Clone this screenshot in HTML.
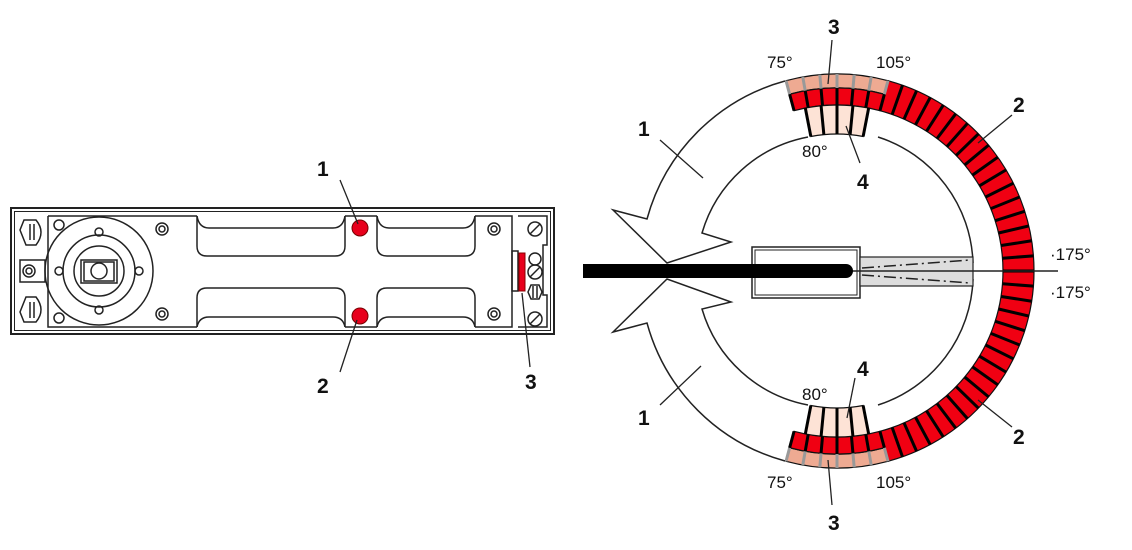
<!DOCTYPE html>
<html><head><meta charset="utf-8"><style>
html,body{margin:0;padding:0;background:#fff;width:1132px;height:550px;overflow:hidden}
svg{display:block}
.b{font-family:"Liberation Sans",sans-serif;font-weight:bold;font-size:21px;fill:#111}
.d{font-family:"Liberation Sans",sans-serif;font-size:17px;fill:#111}
</style></head><body>
<svg id="s" width="1132" height="550" viewBox="0 0 1132 550" xmlns="http://www.w3.org/2000/svg">
<g fill="none" stroke="#222" stroke-width="1.5">
<rect x="11" y="208" width="543" height="126" stroke-width="2"/>
<rect x="14.5" y="211.5" width="536" height="119" stroke-width="1"/>
<path d="M48 216 H197 M48 216 V327 H197 M345 216 H377 M475 216 H512 V327 H475 M345 327 H377"/>
<path d="M197 216 V246 Q197 256 207 256 H335 Q345 256 345 246 V216"/>
<path d="M197 216 Q199 228 209 228 H333 Q343 228 345 216"/>
<path d="M377 216 V246 Q377 256 387 256 H465 Q475 256 475 246 V216"/>
<path d="M377 216 Q379 228 389 228 H463 Q473 228 475 216"/>
<path d="M197 327 V298 Q197 288 207 288 H335 Q345 288 345 298 V327"/>
<path d="M197 327 Q199 317 209 317 H333 Q343 317 345 327"/>
<path d="M377 327 V298 Q377 288 387 288 H465 Q475 288 475 298 V327"/>
<path d="M377 327 Q379 317 389 317 H463 Q473 317 475 327"/>
<circle cx="99" cy="271" r="54"/><circle cx="99" cy="271" r="36"/><circle cx="99" cy="271" r="25"/>
<rect x="81" y="260" width="36" height="23"/><rect x="84" y="262" width="30" height="19"/>
<circle cx="99" cy="271" r="8"/>
<circle cx="99" cy="232" r="4"/><circle cx="99" cy="310" r="4"/><circle cx="59" cy="271" r="4"/><circle cx="139" cy="271" r="4"/>
<circle cx="59" cy="225" r="5"/><circle cx="59" cy="318" r="5"/>
<circle cx="162" cy="229" r="6"/><circle cx="162" cy="229" r="3"/>
<circle cx="162" cy="314" r="6"/><circle cx="162" cy="314" r="3"/>
<circle cx="494" cy="229" r="6"/><circle cx="494" cy="229" r="3"/>
<circle cx="494" cy="314" r="6"/><circle cx="494" cy="314" r="3"/>
<circle cx="29" cy="271" r="6"/><circle cx="29" cy="271" r="3"/>
<path d="M20 260 H45 V282 H20 Z"/>
<path d="M24 220 L20 230 L26 245 H36 Q46 232 36 220 Z"/><path d="M30 224 V240 M34 224 V240"/>
<path d="M24 322 L20 312 L26 297 H36 Q46 310 36 322 Z"/><path d="M30 302 V318 M34 302 V318"/>
<path d="M518 216 H547 V245 H543 V295 H547 V327 H518"/>
<rect x="512" y="251" width="6" height="40"/>
<circle cx="535" cy="229" r="7"/><path d="M530 234 L540 224"/>
<circle cx="535" cy="259" r="6"/><circle cx="535" cy="272" r="7"/><path d="M530 277 L540 267"/>
<path d="M528 292 L531 285 H539 L542 292 L539 299 H531 Z"/><path d="M533 286 V298 M537 286 V298"/>
<circle cx="535" cy="319" r="7"/><path d="M530 324 L540 314"/>
</g>
<rect x="519" y="253" width="6" height="38" fill="#e8001c" stroke="#800" stroke-width="1"/>
<circle cx="360" cy="228" r="8" fill="#e8001c" stroke="#700" stroke-width="1"/>
<circle cx="360" cy="316" r="8" fill="#e8001c" stroke="#700" stroke-width="1"/>
<g stroke="#222" stroke-width="1.3">
<line x1="340" y1="180" x2="358" y2="224"/><line x1="340" y1="372" x2="357" y2="320"/><line x1="530" y1="367" x2="522" y2="293"/>
</g>
<text class="b" x="317" y="176">1</text><text class="b" x="317" y="393">2</text><text class="b" x="525" y="389">3</text>
<g id="ring"></g>
<g fill="none" stroke="#222" stroke-width="1.5">
<path d="M785 81 A197 197 0 0 0 647 219 L613 210 L667 263 L731 242 L702 233 A137 137 0 0 1 808 137"/>
<path d="M785 461 A197 197 0 0 1 647 323 L613 332 L667 279 L731 302 L702 309 A137 137 0 0 0 808 405"/>
<path d="M878 137 A137 137 0 0 1 973 263 M878 405 A137 137 0 0 0 973 279"/>
</g>
<rect x="752" y="247" width="108" height="51" fill="#fff" stroke="#222" stroke-width="1.5"/>
<rect x="755" y="250" width="102" height="45" fill="none" stroke="#222" stroke-width="1"/>
<rect x="860" y="257" width="113" height="29" fill="#ddd" stroke="#222" stroke-width="1.2"/>
<g stroke="#222" stroke-width="1.5" stroke-dasharray="12 4 2 4"><line x1="862" y1="268" x2="970" y2="260"/><line x1="862" y1="275" x2="970" y2="283"/></g>
<line x1="850" y1="271" x2="1058" y2="271" stroke="#222" stroke-width="1.5"/>
<rect x="583" y="264" width="270" height="14" rx="7" fill="#000"/>
<rect x="583" y="264" width="20" height="14" fill="#000"/>
<g stroke="#222" stroke-width="1.3">
<line x1="832" y1="40" x2="828" y2="84"/><line x1="860" y1="163" x2="846" y2="126"/>
<line x1="1012" y1="115" x2="978" y2="143"/><line x1="1012" y1="427" x2="978" y2="400"/>
<line x1="855" y1="378" x2="847" y2="418"/><line x1="832" y1="505" x2="828" y2="460"/>
<line x1="660" y1="140" x2="703" y2="178"/><line x1="660" y1="405" x2="701" y2="366"/>
</g>
<text class="b" x="828" y="34">3</text><text class="d" x="767" y="68">75°</text><text class="d" x="876" y="68">105°</text>
<text class="d" x="802" y="157">80°</text><text class="b" x="857" y="189">4</text>
<text class="b" x="1013" y="112">2</text><text class="b" x="638" y="136">1</text>
<text class="d" x="1050" y="260">·175°</text><text class="d" x="1050" y="298">·175°</text>
<text class="d" x="802" y="400">80°</text><text class="b" x="857" y="376">4</text>
<text class="b" x="1013" y="444">2</text><text class="b" x="638" y="425">1</text>
<text class="d" x="767" y="488">75°</text><text class="d" x="876" y="488">105°</text><text class="b" x="828" y="530">3</text>
</svg>
<script>
(function(){
var cx=837,cy=271,g=document.getElementById('ring'),NS='http://www.w3.org/2000/svg';
function P(r,a){a=a*Math.PI/180;return [(cx+r*Math.cos(a)).toFixed(2),(cy+r*Math.sin(a)).toFixed(2)];}
function sec(r1,r2,a1,a2,fill){var p1=P(r2,a1),p2=P(r2,a2),p3=P(r1,a2),p4=P(r1,a1);var lg=(a2-a1)>180?1:0;
var e=document.createElementNS(NS,'path');e.setAttribute('d','M'+p1+' A'+r2+' '+r2+' 0 '+lg+' 1 '+p2+' L'+p3+' A'+r1+' '+r1+' 0 '+lg+' 0 '+p4+'Z');
e.setAttribute('fill',fill);e.setAttribute('stroke','#111');e.setAttribute('stroke-width','1.2');g.appendChild(e);}
function ln(r1,r2,a,c,w){var p=P(r1,a),q=P(r2,a);var e=document.createElementNS(NS,'line');e.setAttribute('x1',p[0]);e.setAttribute('y1',p[1]);e.setAttribute('x2',q[0]);e.setAttribute('y2',q[1]);e.setAttribute('stroke',c);e.setAttribute('stroke-width',w);g.appendChild(e);}
sec(166,197,-75,75,'#f00012');
var n=34;for(var i=1;i<n;i++){ln(166,197,-75+150*i/n,'#000',3);}
[-1,1].forEach(function(s){
 var a1=s<0?-105:75,a2=s<0?-75:105;
 sec(183,197,a1,a2,'#eeaa92');sec(166,183,a1,a2,'#f00012');
 var b1=s<0?-101:79,b2=s<0?-79:101;sec(137,166,b1,b2,'#fde3d6');
 for(var k=0;k<=6;k++){var a=a1+k*5;ln(183,197,a,'#999',3);ln(166,183,a,'#000',3);}
 for(var k=0;k<=4;k++){var a=b1+k*5.5;ln(137,166,a,'#000',3);}
});
})();
</script>
</body></html>
